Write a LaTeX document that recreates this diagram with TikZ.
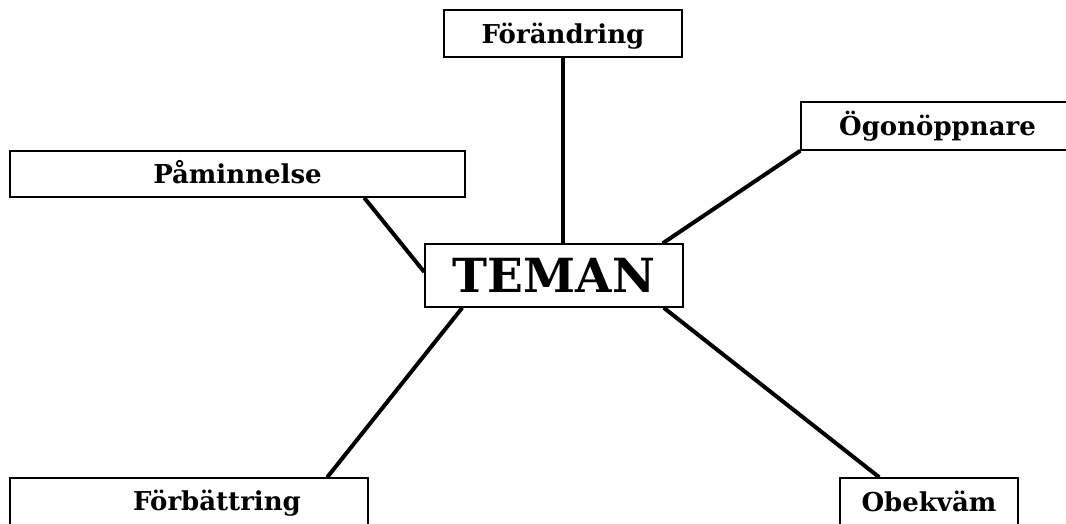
\documentclass[tikz,border=0pt]{standalone}
\usepackage{fontspec}
\setmainfont{DejaVu Serif}
\begin{document}
\begin{tikzpicture}[x=1pt,y=-1pt,
  box/.style={draw, line width=1.5pt, fill=white, inner sep=0pt},
  lab/.style={font=\fontsize{26}{30}\selectfont\bfseries, text height=26pt, text depth=7pt},
  big/.style={font=\fontsize{47}{52}\selectfont\bfseries, text height=47pt, text depth=13pt},
  link/.style={line width=4pt}]
\useasboundingbox (0,0) rectangle (1066,523);
\clip (0,0) rectangle (1066,523);
% boxes
\node[box, lab, minimum width=238pt, minimum height=47pt] (for) at (563,33.5) {Förändring};
\node[box, lab, minimum width=455pt, minimum height=46pt] (pam) at (237.5,174) {Påminnelse};
\node[box, lab, minimum width=273pt, minimum height=48pt] (ogo) at (937.5,126) {Ögonöppnare};
\node[box, big, minimum width=258pt, minimum height=63pt] (tem) at (554,275.5) {TEMAN};
\node[box, minimum width=358pt, minimum height=48pt] (forb) at (189,502) {};
\node[lab, inner sep=0pt] (forbt) at (217,501) {Förbättring};
\node[box, lab, minimum width=178pt, minimum height=48pt] (obe) at (929,502) {Obekväm};
% connectors
\draw[link] (for.south) -- (for.south |- tem.north);
\draw[link] ([xshift=355pt]pam.south west) -- ([yshift=3.5pt]tem.west);
\draw[link] (ogo.south west) -- ([xshift=-21pt]tem.north east);
\draw[link] ([xshift=38pt]tem.south west) -- ([xshift=318pt]forb.north west);
\draw[link] ([xshift=-20pt]tem.south east) -- ([xshift=40pt]obe.north west);
\end{tikzpicture}
\end{document}
